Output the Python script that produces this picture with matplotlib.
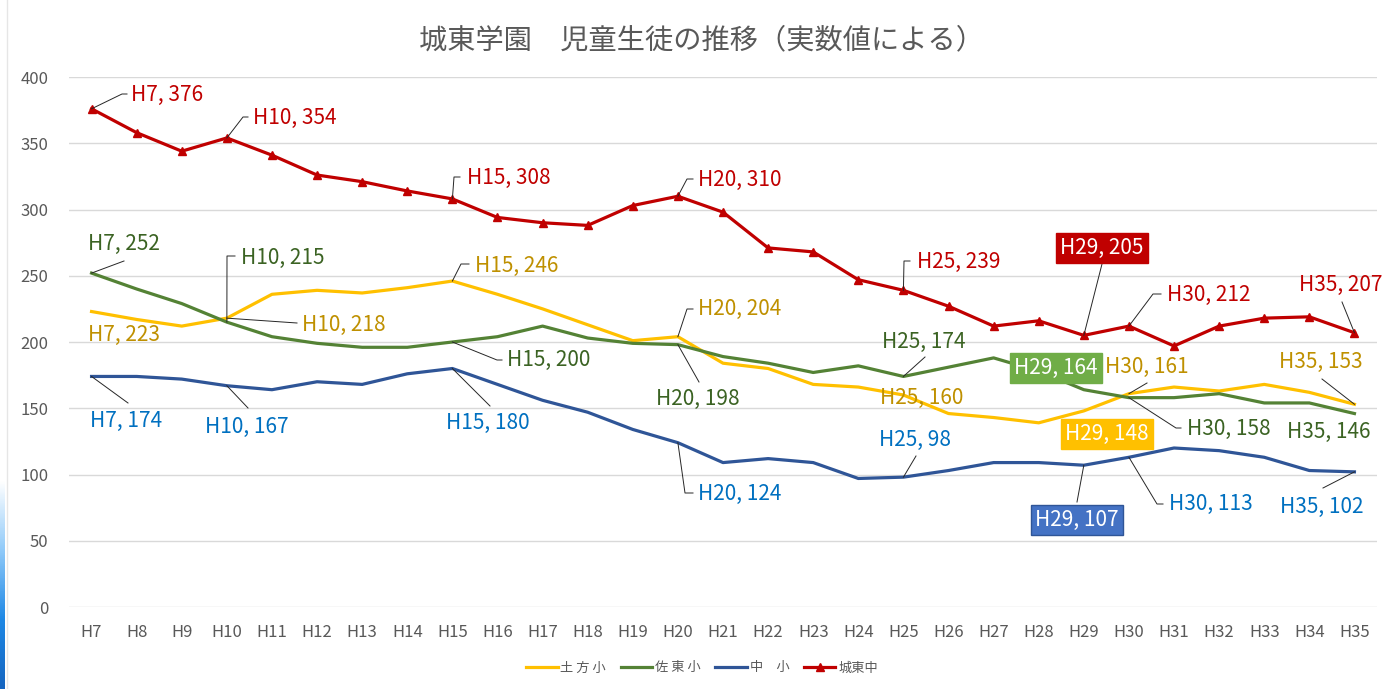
import numpy as np
import matplotlib.pyplot as plt
from matplotlib.lines import Line2D

plt.rcParams['font.family'] = ['Noto Sans CJK JP', 'DejaVu Sans']

# data
years = ['H' + str(y) for y in range(7, 36)]
hijikata = [223, 217, 212, 218, 236, 239, 237, 241, 246, 236, 225, 213, 201, 204, 184,
            180, 168, 166, 160, 146, 143, 139, 148, 161, 166, 163, 168, 162, 153]
sato = [252, 240, 229, 215, 204, 199, 196, 196, 200, 204, 212, 203, 199, 198, 189,
        184, 177, 182, 174, 181, 188, 178, 164, 158, 158, 161, 154, 154, 146]
naka = [174, 174, 172, 167, 164, 170, 168, 176, 180, 168, 156, 147, 134, 124, 109,
        112, 109, 97, 98, 103, 109, 109, 107, 113, 120, 118, 113, 103, 102]
joto = [376, 358, 344, 354, 341, 326, 321, 314, 308, 294, 290, 288, 303, 310, 298,
        271, 268, 247, 239, 227, 212, 216, 205, 212, 197, 212, 218, 219, 207]
series_names = ['土 方 小', '佐 東 小', '中　小', '城東中']

W, H = 1390, 689
fig = plt.figure(figsize=(W / 100, H / 100), dpi=100)
ax = fig.add_axes([69 / W, 1 - 607 / H, (1377 - 69) / W, (607 - 77) / H])

x = np.arange(len(years))
cols = {'y': '#FFC000', 'g': '#548235', 'b': '#2F5597', 'r': '#C00000'}
ax.plot(x, hijikata, color=cols['y'], lw=2.3, label=series_names[0], zorder=3)
ax.plot(x, sato, color=cols['g'], lw=2.3, label=series_names[1], zorder=3)
ax.plot(x, naka, color=cols['b'], lw=2.3, label=series_names[2], zorder=3)
ax.plot(x, joto, color=cols['r'], lw=2.3, marker='^', ms=6, label=series_names[3], zorder=4)

ax.set_xlim(-0.5, len(years) - 0.5)
ax.set_ylim(0, 400)
ax.set_yticks(range(0, 401, 50))
ax.set_xticks(x)
ax.set_xticklabels(years)
ax.grid(axis='y', color='#D9D9D9', lw=1)
ax.set_axisbelow(True)
for s in ax.spines.values():
    s.set_visible(False)
ax.tick_params(length=0, colors='#595959', labelsize=12)
ax.tick_params(axis='y', pad=15)
ax.tick_params(axis='x', pad=12)

fig.text(0.505, 1 - 40 / H, '城東学園　児童生徒の推移（実数値による）', ha='center', va='center',
         fontsize=20.3, color='#595959')

# data labels: (values, index, text left px, text center px, leader points px, box colour)
txtc = {'y': '#BF9000', 'g': '#3B6323', 'b': '#0070C0', 'r': '#C00000'}
boxc = {'y': '#FFC000', 'g': '#70AD47', 'b': '#4472C4', 'r': '#C00000'}
labels = [
    ('r', joto, 0, 131, 95, [(122, 94), (127, 94)], False),
    ('r', joto, 3, 253, 118, [(243, 117), (248, 117)], False),
    ('r', joto, 8, 467, 178, [(454, 177), (460, 177)], False),
    ('r', joto, 13, 698, 180, [(687, 179), (693, 179)], False),
    ('r', joto, 18, 917, 262, [(904, 261), (910, 261)], False),
    ('r', joto, 22, 1102, 248, [(1102, 264)], True),
    ('r', joto, 23, 1167, 295, [(1153, 294), (1161, 294)], False),
    ('r', joto, 28, 1299, 285, [(1342, 302)], False),
    ('y', hijikata, 0, 88, 335, [], False),
    ('y', hijikata, 3, 302, 325, [(297, 323)], False),
    ('y', hijikata, 8, 475, 266, [(461, 264), (469, 264)], False),
    ('y', hijikata, 13, 698, 309, [(687, 309), (693, 309)], False),
    ('y', hijikata, 18, 880, 398, [], False),
    ('y', hijikata, 22, 1107, 434, [], True),
    ('y', hijikata, 23, 1105, 367, [(1147, 383)], False),
    ('y', hijikata, 28, 1279, 362, [(1322, 379)], False),
    ('g', sato, 0, 88, 244, [(124, 261)], False),
    ('g', sato, 3, 241, 258, [(227, 256), (235, 256)], False),
    ('g', sato, 8, 507, 360, [(497, 360), (502, 360)], False),
    ('g', sato, 13, 656, 399, [(699, 382)], False),
    ('g', sato, 18, 882, 342, [(925, 357)], False),
    ('g', sato, 22, 1056, 368, [], True),
    ('g', sato, 23, 1187, 429, [(1176, 428), (1181, 428)], False),
    ('g', sato, 28, 1287, 432, [], False),
    ('b', naka, 0, 90, 421, [(128, 403)], False),
    ('b', naka, 3, 205, 427, [(248, 408)], False),
    ('b', naka, 8, 446, 423, [(490, 406)], False),
    ('b', naka, 13, 698, 494, [(685, 493), (693, 493)], False),
    ('b', naka, 18, 879, 440, [(916, 456)], False),
    ('b', naka, 22, 1077, 520, [(1077, 502)], True),
    ('b', naka, 23, 1169, 504, [(1157, 504), (1163, 504)], False),
    ('b', naka, 28, 1280, 507, [(1323, 488)], False),
]

to_fig = fig.transFigure.inverted()
for key, vals, i, px, py, leader, boxed in labels:
    text = f'{years[i]}, {vals[i]}'
    if boxed:
        fig.text(px / W, 1 - py / H, text, ha='center', va='center', fontsize=15,
                 color='white', zorder=6,
                 bbox=dict(boxstyle='square,pad=0.2', fc=boxc[key],
                           ec='#2F5597' if key == 'b' else boxc[key], lw=1))
    else:
        fig.text(px / W, 1 - py / H, text, ha='left', va='center', fontsize=15,
                 color=txtc[key], zorder=6)
    if leader:
        p0 = to_fig.transform(ax.transData.transform((i, vals[i])))
        xs = [p0[0]] + [q[0] / W for q in leader]
        ys = [p0[1]] + [1 - q[1] / H for q in leader]
        fig.add_artist(Line2D(xs, ys, color='#262626', lw=0.7, zorder=5))

ax.legend(loc='center', bbox_to_anchor=(702 / W, 1 - 668 / H), bbox_transform=fig.transFigure,
          ncol=4, frameon=False, fontsize=9.5, labelcolor='#595959', handlelength=2.4,
          columnspacing=1.1, handletextpad=0.2)

# left edge strip of the screenshot
fig.add_artist(Line2D([6.5 / W, 6.5 / W], [0, 1], color='#E6E6E6', lw=1))
strip = fig.add_axes([0, 0, 5 / W, 209 / H])
grad = np.linspace(0, 1, 100).reshape(-1, 1)
strip.imshow(grad, aspect='auto', cmap=plt.matplotlib.colors.LinearSegmentedColormap.from_list(
    'e', ['#1565C0', '#1E88E5', '#90CAF9', '#FFFFFF']), origin='lower')
strip.axis('off')

fig.savefig('out.png', dpi=100)
